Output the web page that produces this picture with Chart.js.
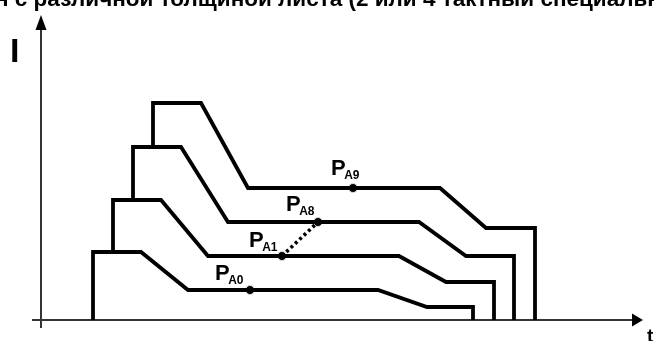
<!DOCTYPE html>
<html>
<head>
<meta charset="utf-8">
<script src="https://cdn.jsdelivr.net/npm/chart.js@4/dist/chart.umd.min.js"></script>
<style>
  html, body { margin: 0; padding: 0; background: #fff; }
  #wrap { width: 654px; height: 341px; }
</style>
</head>
<body>
<div id="wrap"><canvas id="myChart" width="654" height="341"></canvas></div>
<script>
// title (only the lower part shows at the top edge)
const titleText = 'н с различной толщиной листа (2 или 4 тактный специальн';

// current profiles, time (x) and current (y) from the origin of the axes
const tA0 = [52, 52, 100, 147, 337, 386, 432, 432];
const iA0 = [0, 68, 68, 30, 30, 13, 13, 0];
const tA1 = [72, 72, 120, 167, 358, 405, 453, 453];
const iA1 = [68, 120, 120, 64, 64, 38, 38, 0];
const tA8 = [92, 92, 140, 187, 378, 425, 473, 473];
const iA8 = [120, 173, 173, 98, 98, 64, 64, 0];
const tA9 = [112, 112, 160, 207, 399, 445, 494, 494];
const iA9 = [173, 217, 217, 132, 132, 92, 92, 0];

// working points
const pointNames = ['A0', 'A1', 'A8', 'A9'];
const pointT = [209, 241, 277, 312];
const pointI = [30, 64, 98, 132];
// where the "P" labels sit (left, baseline)
const labelT = [174, 208, 245, 290];
const labelI = [40, 73, 109, 145];

function pts(xs, ys) {
  return xs.map((x, i) => ({ x: x, y: ys[i] }));
}

function profile(xs, ys) {
  return {
    data: pts(xs, ys),
    showLine: true,
    borderColor: '#000',
    borderWidth: 3.8,
    pointRadius: 0,
    fill: false,
    tension: 0,
    borderJoinStyle: 'miter'
  };
}

const axesPlugin = {
  id: 'axes',
  beforeDatasetsDraw(chart) {
    const ctx = chart.ctx;
    const xs = chart.scales.x, ys = chart.scales.y;
    const x0 = xs.getPixelForValue(0), y0 = ys.getPixelForValue(0);
    ctx.save();
    ctx.strokeStyle = '#333';
    ctx.fillStyle = '#000';
    ctx.lineWidth = 2;
    // vertical axis
    const yTop = ys.getPixelForValue(305);
    ctx.beginPath();
    ctx.moveTo(x0, ys.getPixelForValue(-8));
    ctx.lineTo(x0, yTop + 10);
    ctx.stroke();
    ctx.beginPath();
    ctx.moveTo(x0, yTop);
    ctx.lineTo(x0 - 5.5, yTop + 15);
    ctx.lineTo(x0 + 5.5, yTop + 15);
    ctx.closePath();
    ctx.fill();
    // horizontal axis
    const xEnd = xs.getPixelForValue(602);
    ctx.beginPath();
    ctx.moveTo(xs.getPixelForValue(-9), y0);
    ctx.lineTo(xEnd - 8, y0);
    ctx.stroke();
    ctx.beginPath();
    ctx.moveTo(xEnd, y0);
    ctx.lineTo(xEnd - 11, y0 - 6.5);
    ctx.lineTo(xEnd - 11, y0 + 6.5);
    ctx.closePath();
    ctx.fill();
    ctx.restore();
  },
  afterDatasetsDraw(chart) {
    const ctx = chart.ctx;
    const xs = chart.scales.x, ys = chart.scales.y;
    ctx.save();
    ctx.fillStyle = '#000';
    ctx.textAlign = 'left';
    ctx.textBaseline = 'alphabetic';
    // title
    ctx.font = 'bold 22.5px "Liberation Sans", Arial, sans-serif';
    ctx.fillText(titleText, -5, 6);
    // axis names
    ctx.font = 'bold 34px "Liberation Sans", Arial, sans-serif';
    ctx.fillText('I', 10, 62);
    ctx.font = 'bold 19px "Liberation Sans", Arial, sans-serif';
    ctx.fillText('t', 647, 342);
    // P labels
    pointNames.forEach((n, i) => {
      const px = xs.getPixelForValue(labelT[i]);
      const py = ys.getPixelForValue(labelI[i]);
      ctx.font = 'bold 22px "Liberation Sans", Arial, sans-serif';
      ctx.fillText('P', px, py);
      const w = ctx.measureText('P').width;
      ctx.font = 'bold 12px "Liberation Sans", Arial, sans-serif';
      ctx.fillText(n, px + w - 1.5, py + 4);
    });
    ctx.restore();
  }
};

new Chart(document.getElementById('myChart'), {
  type: 'scatter',
  data: {
    datasets: [
      profile(tA0, iA0),
      profile(tA1, iA1),
      profile(tA8, iA8),
      profile(tA9, iA9),
      {
        // dotted link between A1 and A8
        data: [{ x: pointT[1], y: pointI[1] }, { x: pointT[2], y: pointI[2] }],
        showLine: true,
        borderColor: '#000',
        borderWidth: 3.6,
        borderDash: [3, 3],
        pointRadius: 0
      },
      {
        data: pts(pointT, pointI),
        showLine: false,
        pointRadius: 4.5,
        pointBackgroundColor: '#000',
        pointBorderColor: '#ddd',
        pointBorderWidth: 1
      }
    ]
  },
  options: {
    responsive: false,
    animation: false,
    layout: { padding: 0, autoPadding: false },
    plugins: {
      legend: { display: false },
      tooltip: { enabled: false }
    },
    scales: {
      x: { type: 'linear', min: -41, max: 613, display: false },
      y: { type: 'linear', min: -21, max: 320, display: false }
    }
  },
  plugins: [axesPlugin]
});
</script>
</body>
</html>
